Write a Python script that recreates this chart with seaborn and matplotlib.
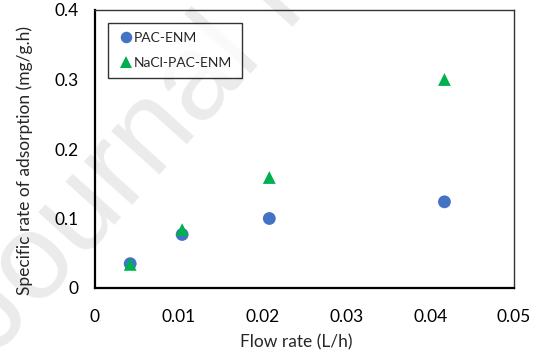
import matplotlib
matplotlib.use("Agg")
import matplotlib.pyplot as plt
import seaborn as sns
import pandas as pd

flow = [0.0042, 0.0104, 0.0208, 0.0417]
pac_enm = [0.035, 0.077, 0.100, 0.124]
nacl_pac_enm = [0.034, 0.084, 0.159, 0.300]
series_names = ["PAC-ENM", "NaCl-PAC-ENM"]
xticks = [0, 0.01, 0.02, 0.03, 0.04, 0.05]
yticks = [0, 0.1, 0.2, 0.3, 0.4]

df = pd.DataFrame({
    "flow": flow * 2,
    "rate": pac_enm + nacl_pac_enm,
    "series": [series_names[0]] * 4 + [series_names[1]] * 4,
})

sns.set_style("white")
plt.rcParams["font.family"] = ["Lato", "DejaVu Sans"]

fig = plt.figure(figsize=(5.4, 3.57), dpi=100)
ax = fig.add_axes([95/540, 1 - 288/357, (514-95)/540, (288-10)/357])
ax.set_facecolor("none")

fig.text(-5/540, 0.0, "Journal Pre-proof", fontsize=88, color="#ebebeb",
         family="Liberation Sans", rotation=48, rotation_mode="anchor",
         ha="left", va="baseline", zorder=-5)

sns.scatterplot(data=df, x="flow", y="rate", hue="series", style="series",
                markers={series_names[0]: "o", series_names[1]: "^"},
                palette={series_names[0]: "#4472C4", series_names[1]: "#00B050"},
                s=85, linewidth=0, ax=ax, zorder=3)

ax.set_xlim(0, 0.05)
ax.set_ylim(0, 0.4)
ax.set_xticks(xticks)
ax.set_yticks(yticks)
ax.set_xticklabels(["0", "0.01", "0.02", "0.03", "0.04", "0.05"])
ax.set_yticklabels(["0", "0.1", "0.2", "0.3", "0.4"])
ax.tick_params(axis="both", direction="in", length=5, width=0.8, colors="#555555",
               labelcolor="black", labelsize=12.5)
ax.tick_params(axis="x", pad=15)
ax.tick_params(axis="y", pad=12)
for side in ["left", "bottom"]:
    ax.spines[side].set_color("black")
    ax.spines[side].set_linewidth(1.6)
for side in ["top", "right"]:
    ax.spines[side].set_color("#333333")
    ax.spines[side].set_linewidth(1.0)
    ax.spines[side].set_visible(True)

ax.set_xlabel("Flow rate (L/h)", fontsize=12.5)
ax.set_ylabel("Specific rate of adsorption (mg/g.h)", fontsize=12.5)
ax.xaxis.set_label_coords(0.48, -0.194)
ax.xaxis.label.set_va("center")
ax.yaxis.set_label_coords(-0.167, 0.46)
ax.yaxis.label.set_va("center")

leg = ax.legend(loc="upper left", bbox_to_anchor=(0.03, 0.955), fontsize=10,
                frameon=True, fancybox=False, borderpad=0.7, labelspacing=0.9,
                handletextpad=0.0, handlelength=1.2, borderaxespad=0,
                markerscale=0.9)
leg.get_frame().set_edgecolor("black")
leg.get_frame().set_linewidth(1.0)

fig.savefig("out.png", dpi=100)
